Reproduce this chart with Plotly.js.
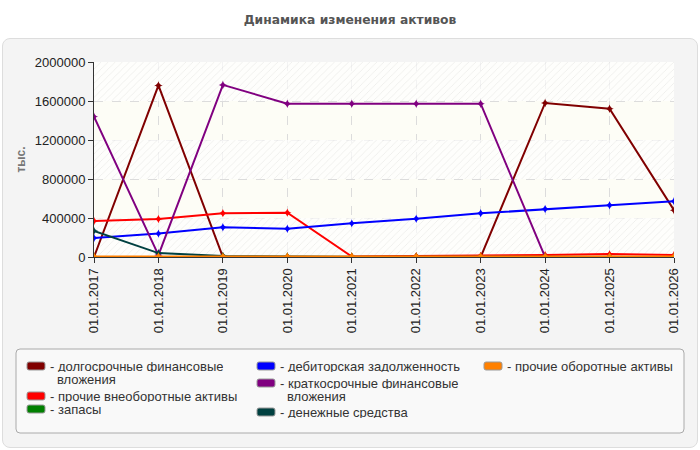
<!DOCTYPE html>
<html>
<head>
<meta charset="utf-8">
<script src="https://cdn.plot.ly/plotly-3.0.1.min.js"></script>
<style>
  body { margin: 0; background: #fff; }
  #wrap { position: relative; width: 700px; height: 450px; }
  #panel { position: absolute; left: 2px; top: 38px; width: 694px; height: 408px;
           background: #f4f4f4; border: 1px solid #dddddd; border-radius: 8px; }
  #graph { position: absolute; left: 0; top: 0; width: 700px; height: 450px; }
</style>
</head>
<body>
<div id="wrap">
  <div id="panel"></div>
  <div id="graph"></div>
</div>
<script>
// chart data
const categories = ['01.01.2017', '01.01.2018', '01.01.2019', '01.01.2020', '01.01.2021',
                    '01.01.2022', '01.01.2023', '01.01.2024', '01.01.2025', '01.01.2026'];

const longTermInvest = [0, 1760000, 0, 0, 0, 0, 0, 1580000, 1520000, 480000];
const otherNonCurrent = [370000, 390000, 450000, 455000, 5000, 8000, 10000, 20000, 30000, 20000];
const inventory = [1000, 2000, 2000, 2000, 2000, 2000, 1000, 1000, 1000, 1000];
const receivables = [195000, 240000, 305000, 290000, 345000, 392000, 448000, 492000, 530000, 572000];
const shortTermInvest = [1440000, 20000, 1765000, 1572000, 1572000, 1572000, 1572000, 0, 0, 0];
const cash = [268000, 40000, 10000, 5000, 3000, 3000, 3000, 1000, 1000, 1000];
const otherCurrent = [5000, 5000, 5000, 5000, 5000, 5000, 5000, 5000, 5000, 5000];

const seriesNames = ['долгосрочные финансовые вложения', 'прочие внеоборотные активы', 'запасы',
                     'дебиторская задолженность', 'краткосрочные финансовые вложения',
                     'денежные средства', 'прочие оборотные активы'];
const seriesValues = [longTermInvest, otherNonCurrent, inventory, receivables,
                      shortTermInvest, cash, otherCurrent];
const seriesColors = ['#800000', '#ff0000', '#008000', '#0000ff', '#800080', '#004040', '#ff8000'];

const yTicks = [0, 400000, 800000, 1200000, 1600000, 2000000];

// plot box in pixels (margins)
const M = {l: 94, r: 26, t: 62, b: 193};
const W = 700, H = 450;
const pw = W - M.l - M.r, ph = H - M.t - M.b;
const px = x => (x - M.l) / pw;
const py = y => (H - M.b - y) / ph;

function roundRect(x0, y0, x1, y1, r) {
  const p = (x, y) => px(x) + ',' + py(y);
  return 'M' + p(x0 + r, y0) + ' L' + p(x1 - r, y0) + ' Q' + p(x1, y0) + ' ' + p(x1, y0 + r) +
         ' L' + p(x1, y1 - r) + ' Q' + p(x1, y1) + ' ' + p(x1 - r, y1) +
         ' L' + p(x0 + r, y1) + ' Q' + p(x0, y1) + ' ' + p(x0, y1 - r) +
         ' L' + p(x0, y0 + r) + ' Q' + p(x0, y0) + ' ' + p(x0 + r, y0) + ' Z';
}

// hatched background bands, every other grid interval, spanning the whole x range
const bandBase = [], bandH = [], bandX = [];
for (let i = 0; i < yTicks.length - 1; i += 2) {
  bandBase.push(yTicks[i]);
  bandH.push(yTicks[i + 1] - yTicks[i]);
  bandX.push(categories[0]);
}

const traces = [{
  type: 'bar', x: bandX, y: bandH, base: bandBase,
  offset: 0, width: categories.length - 1,
  showlegend: false, hoverinfo: 'skip',
  marker: {color: 'rgba(0,0,0,0)', line: {width: 0},
           pattern: {shape: '/', fgcolor: 'rgba(0,0,0,0.07)', bgcolor: 'rgba(255,255,255,0.65)',
                     size: 5, solidity: 0.15}}
}];

seriesNames.forEach((name, i) => {
  traces.push({
    type: 'scatter', mode: 'lines+markers', name: name,
    x: categories, y: seriesValues[i],
    line: {color: seriesColors[i], width: 2},
    marker: {color: seriesColors[i], size: 6, symbol: 'star-diamond'}
  });
});

// hand-made legend, three columns
const legendCols = [[0, 1, 2], [3, 4, 5], [6]];
const colX = [27, 257, 484];
const rowY = [[366, 396, 409], [366, 383, 412], [366]];
const legendFont = {family: 'Liberation Sans, Arial', size: 13, color: '#333'};
const shapes = [
  {type: 'path', xref: 'paper', yref: 'paper', layer: 'below',
   path: roundRect(16, 349, 684, 433, 4), fillcolor: '#f9f9f9', line: {color: '#aaaaaa', width: 1}}
];
const annotations = [];
legendCols.forEach((col, c) => {
  col.forEach((s, r) => {
    const x0 = colX[c], yc = rowY[c][r];
    shapes.push({type: 'path', xref: 'paper', yref: 'paper',
      path: roundRect(x0, yc - 4, x0 + 18, yc + 4, 2),
      fillcolor: seriesColors[s], line: {color: '#999999', width: 1}});
    // wrap long names before the last word, like the original
    let lines = [seriesNames[s]];
    if (seriesNames[s].length > 28) {
      const k = seriesNames[s].lastIndexOf(' ');
      lines = [seriesNames[s].slice(0, k), seriesNames[s].slice(k + 1)];
    }
    lines.forEach((ln, j) => {
      annotations.push({xref: 'paper', yref: 'paper',
        x: px(x0 + (j === 0 ? 21 : 28)), y: py(yc + j * 12.6),
        xanchor: 'left', yanchor: 'middle', showarrow: false,
        text: (j === 0 ? '- ' : '') + ln,
        height: 12, valign: 'middle', font: legendFont});
    });
  });
});

const layout = {
  width: W, height: H,
  margin: M,
  paper_bgcolor: 'rgba(0,0,0,0)',
  plot_bgcolor: '#fdfdf6',
  showlegend: false,
  barmode: 'overlay',
  font: {family: 'Liberation Sans, Arial', size: 13, color: '#222'},
  title: {text: '<b>Динамика изменения активов</b>', x: 0.5, xref: 'container', xanchor: 'center',
          y: 1 - 20 / H, yref: 'container', yanchor: 'middle',
          font: {family: 'DejaVu Sans', size: 12.3, color: '#555'}},
  xaxis: {
    type: 'category', range: [0, categories.length - 1],
    tickangle: -90, ticks: 'outside', ticklen: 5, tickcolor: '#333',
    showline: true, linecolor: '#333', linewidth: 1,
    showgrid: true, gridcolor: '#dcdcdc', griddash: 'dash',
    tickfont: {size: 13, color: '#222'}
  },
  yaxis: {
    range: [0, 2000000], tickvals: yTicks, tickformat: 'd',
    ticks: 'outside', ticklen: 5, tickcolor: '#333',
    showline: true, linecolor: '#333', linewidth: 1, zeroline: false,
    showgrid: true, gridcolor: '#dcdcdc', griddash: 'dash',
    tickfont: {size: 13, color: '#222'},
    title: {text: '<b>тыс.</b>', standoff: 6, font: {size: 12, color: '#777'}}
  },
  shapes: shapes,
  annotations: annotations
};

Plotly.newPlot('graph', traces, layout, {displayModeBar: false, staticPlot: true});
</script>
</body>
</html>
